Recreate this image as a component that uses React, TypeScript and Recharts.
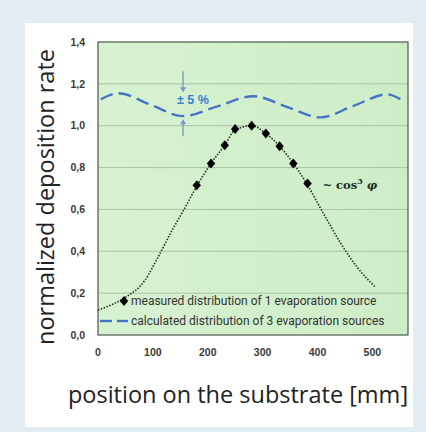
import React from "react";
import {
  ComposedChart,
  Line,
  Scatter,
  XAxis,
  YAxis,
  CartesianGrid,
  ReferenceArea,
  ReferenceDot,
} from "recharts";

// x ticks (mm) and y ticks (normalized rate)
const xTicks = [0, 100, 200, 300, 400, 500];
const yTicks = [0, 0.2, 0.4, 0.6, 0.8, 1.0, 1.2, 1.4];

// ~cos^3 fit of one source (dotted)
const fitPos = [0, 25, 49, 86, 109, 135, 159, 181, 206, 231, 250, 280, 306, 331, 356, 381, 411, 442, 472, 505];
const fitRate = [0.12, 0.145, 0.178, 0.263, 0.37, 0.5, 0.61, 0.716, 0.82, 0.907, 0.98, 1.0, 0.963, 0.902, 0.82, 0.72, 0.58, 0.44, 0.325, 0.23];

// measured points of one source (diamonds)
const measuredPos = [180, 206, 231, 250, 280, 306, 331, 356, 382];
const measuredRate = [0.716, 0.82, 0.907, 0.984, 1.0, 0.963, 0.902, 0.82, 0.724];

// calculated sum of three sources (blue dashes)
const calcPos = [5, 37, 96, 155, 219, 283, 344, 405, 466, 527, 551];
const calcRate = [1.126, 1.155, 1.1, 1.046, 1.094, 1.141, 1.09, 1.04, 1.095, 1.15, 1.127];

const fitData = fitPos.map((x, i) => ({ x, y: fitRate[i] }));
const measuredData = measuredPos.map((x, i) => ({ x, y: measuredRate[i] }));
const calcData = calcPos.map((x, i) => ({ x, y: calcRate[i] }));

const BLUE = "#4673c8";
const ARROW = "#7896c4";
const tickStyle = { fontSize: 10.5, fontWeight: 700, fill: "#3a3a3a", fontFamily: "Liberation Sans" };

const Diamond = (props: any) => {
  const { cx, cy } = props;
  return <polygon points={`${cx},${cy - 5} ${cx + 4.2},${cy} ${cx},${cy + 5} ${cx - 4.2},${cy}`} fill="#000" />;
};

const DownArrow = (props: any) => {
  const { cx, cy } = props;
  return (
    <g>
      <line x1={cx} y1={cy - 23} x2={cx} y2={cy - 6} stroke={ARROW} strokeWidth={1.3} />
      <polygon points={`${cx - 3},${cy - 7} ${cx + 3},${cy - 7} ${cx},${cy - 2}`} fill={ARROW} />
    </g>
  );
};

const UpArrow = (props: any) => {
  const { cx, cy } = props;
  return (
    <g>
      <line x1={cx} y1={cy + 19} x2={cx} y2={cy + 6} stroke={ARROW} strokeWidth={1.3} />
      <polygon points={`${cx - 3},${cy + 7} ${cx + 3},${cy + 7} ${cx},${cy + 2}`} fill={ARROW} />
    </g>
  );
};

const PercentText = (props: any) => {
  const { cx, cy } = props;
  return (
    <text x={cx} y={cy} textAnchor="middle" dominantBaseline="central" fill="#3a7fd5" fontSize={12.5} fontWeight={700} fontFamily="Liberation Sans">
      ± 5 %
    </text>
  );
};

const CosText = (props: any) => {
  const { cx, cy } = props;
  return (
    <text x={cx} y={cy} dominantBaseline="central" fill="#1d2b1d" fontSize={11.5} fontWeight={700} fontFamily="DejaVu Serif">
      <tspan>~ cos</tspan>
      <tspan dy={-4} fontSize={8}>3</tspan>
      <tspan dy={4} fontStyle="italic"> φ</tspan>
    </text>
  );
};

export default function App() {
  return (
    <div style={{ position: "absolute", left: 0, top: 0, width: 426, height: 432, background: "#e2edf3" }}>
      <div style={{ position: "absolute", left: 25, top: 23, width: 388, height: 404, background: "#fff" }} />
      <div style={{ position: "absolute", left: 0, top: 0 }}>
        <ComposedChart width={426} height={432} margin={{ top: 42, right: 18, left: 38, bottom: 67 }}>
          <defs>
            <linearGradient id="plotBg" x1="0" y1="0" x2="1" y2="0">
              <stop offset="0%" stopColor="#d7f2d1" />
              <stop offset="100%" stopColor="#cdedc7" />
            </linearGradient>
          </defs>
          <CartesianGrid vertical={false} fill="url(#plotBg)" stroke="#a9c3a4" strokeWidth={1} />
          <XAxis
            type="number"
            dataKey="x"
            domain={[0, 565]}
            ticks={xTicks}
            axisLine={false}
            tickLine={false}
            tickMargin={8}
            tick={tickStyle}
            height={30}
            allowDataOverflow
          />
          <YAxis
            type="number"
            dataKey="y"
            domain={[0, 1.4]}
            ticks={yTicks}
            axisLine={false}
            tickLine={false}
            tickMargin={7}
            tick={tickStyle}
            width={60}
            tickFormatter={(v: number) => v.toFixed(1).replace(".", ",")}
          />
          <ReferenceArea x1={0} x2={565} y1={0} y2={1.4} fill="none" fillOpacity={0} stroke="#4d554d" strokeWidth={1.2} />
          <Line
            data={calcData}
            dataKey="y"
            type="monotone"
            stroke={BLUE}
            strokeWidth={2.4}
            strokeDasharray="13 6"
            dot={false}
            isAnimationActive={false}
          />
          <Line
            data={fitData}
            dataKey="y"
            type="monotone"
            stroke="#1f301f"
            strokeWidth={1.6}
            strokeDasharray="1.5 1.5"
            dot={false}
            isAnimationActive={false}
          />
          <Scatter data={measuredData} dataKey="y" shape={<Diamond />} isAnimationActive={false} />
          <ReferenceDot x={155} y={1.15} shape={<DownArrow />} />
          <ReferenceDot x={155} y={1.04} shape={<UpArrow />} />
          <ReferenceDot x={173} y={1.123} shape={<PercentText />} />
          <ReferenceDot x={409} y={0.716} shape={<CosText />} />
        </ComposedChart>
      </div>
      {/* legend */}
      <div style={{ position: "absolute", left: 0, top: 0, fontFamily: "Roboto", fontSize: 12, color: "#333" }}>
        <svg style={{ position: "absolute", left: 0, top: 0 }} width={140} height={340}>
          <polygon points="124,296 128.2,301 124,306 119.8,301" fill="#000" />
          <line x1={100} y1={321} x2={112} y2={321} stroke={BLUE} strokeWidth={2.4} />
          <line x1={117} y1={321} x2={128} y2={321} stroke={BLUE} strokeWidth={2.4} />
        </svg>
        <div style={{ position: "absolute", left: 131, top: 293, whiteSpace: "nowrap", lineHeight: "16px" }}>
          measured distribution of 1 evaporation source
        </div>
        <div style={{ position: "absolute", left: 131, top: 313, whiteSpace: "nowrap", lineHeight: "16px" }}>
          calculated distribution of 3 evaporation sources
        </div>
      </div>
      {/* axis titles */}
      <div
        style={{
          position: "absolute",
          left: 45,
          top: 197,
          transform: "translate(-50%, -50%) rotate(-90deg)",
          whiteSpace: "nowrap",
          fontFamily: "Open Sans",
          fontSize: 23.5,
          color: "#222",
          lineHeight: "28px",
        }}
      >
        normalized deposition rate
      </div>
      <div
        style={{
          position: "absolute",
          left: 238,
          top: 394,
          transform: "translate(-50%, -50%)",
          whiteSpace: "nowrap",
          fontFamily: "Open Sans",
          fontSize: 23.5,
          color: "#222",
          lineHeight: "28px",
        }}
      >
        position on the substrate [mm]
      </div>
    </div>
  );
}
